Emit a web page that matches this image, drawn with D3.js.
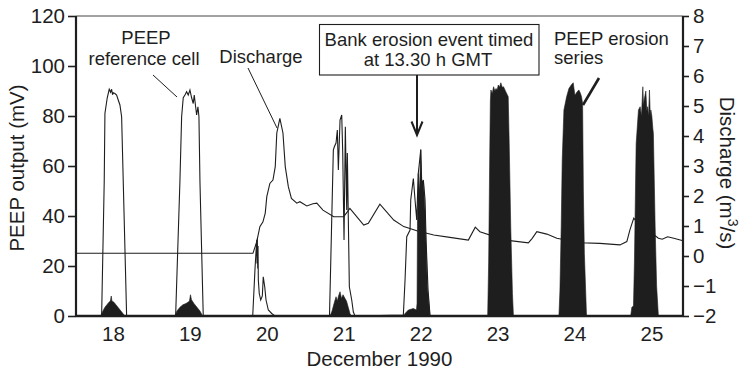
<!DOCTYPE html>
<html><head><meta charset="utf-8">
<script src="https://cdn.jsdelivr.net/npm/d3@7"></script>
<style>
body{margin:0;background:#fff}
svg{display:block}
text{font-family:"Liberation Sans",Arial,Helvetica,sans-serif;fill:#1e1e1e}
</style>
</head><body>
<svg id="chart" width="743" height="374"></svg>
<script>
// ---------- data ----------
const dayDomain = [17.52, 25.41];
const dayTicks = [18, 19, 20, 21, 22, 23, 24, 25];
const peepTicks = [0, 20, 40, 60, 80, 100, 120];
const dischargeTicks = [-2, -1, 0, 1, 2, 3, 4, 5, 6, 7, 8];

// discharge, m3/s  [day, value]
const discharge = [
  [17.52,0.09],[19.82,0.09],[19.87,0.48],[19.91,0.98],[19.95,1.14],[19.98,1.43],[20.0,1.98],
  [20.04,2.42],[20.08,2.53],[20.11,2.98],[20.13,4.1],[20.17,4.59],[20.21,4.1],[20.24,2.98],
  [20.28,2.31],[20.32,1.92],[20.39,1.76],[20.43,1.81],[20.52,1.67],[20.6,1.74],[20.65,1.76],
  [20.73,1.53],[20.87,1.31],[21.0,1.31],[21.08,1.59],[21.26,1.03],[21.32,1.09],[21.47,1.73],
  [21.65,1.2],[21.78,0.98],[21.95,0.84],[22.17,0.7],[22.38,0.62],[22.62,0.53],[22.71,0.96],
  [22.77,0.81],[23.1,0.53],[23.4,0.44],[23.45,0.59],[23.51,0.81],[23.64,0.73],[23.77,0.59],
  [24.07,0.44],[24.33,0.42],[24.59,0.37],[24.68,0.48],[24.72,0.87],[24.77,1.26],[24.79,1.2],
  [25.09,0.59],[25.14,0.56],[25.21,0.64],[25.29,0.59],[25.41,0.51]
];

// PEEP reference cell, mV  [day, value]
const referenceCell = [
  [17.52,0],[17.853,0],[17.887,54],[17.896,81],[17.926,87.3],[17.952,90.7],[17.97,89.5],
  [17.983,90.7],[17.995,88.5],[18.004,89.3],[18.026,89],[18.048,88.4],[18.069,86.4],
  [18.091,84.4],[18.113,79.7],[18.134,54],[18.178,0],
  [18.815,0],[18.871,54],[18.893,79.7],[18.914,87.3],[18.936,88.4],[18.958,89.7],[18.979,88.4],
  [19.001,90.4],[19.023,87.3],[19.044,85],[19.057,88.4],[19.075,83.7],[19.088,80.4],
  [19.105,83.7],[19.118,79.7],[19.131,54],[19.174,0],
  [19.817,0],[19.847,19],[19.869,30.4],[19.873,21],[19.877,31],[19.882,19],[19.886,28],
  [19.89,14.4],[19.902,9],[19.921,6.4],[19.942,8],[19.954,15.7],[19.973,11.7],[19.99,6.4],
  [20.02,2.4],[20.064,1],[20.107,0],
  [20.815,0],[20.841,34.4],[20.865,66.4],[20.878,67.7],[20.9,69.2],[20.917,74.4],[20.93,58.4],
  [20.952,78.4],[20.974,80.4],[20.987,65.2],[21.004,30.4],[21.021,75.7],[21.039,42.4],
  [21.047,65.2],[21.073,11.7],[21.104,6.4],[21.125,1.6],[21.147,0],
  [21.775,0.4],[21.797,14.4],[21.819,31.7],[21.862,34.4],[21.871,46.4],[21.905,55],
  [21.927,46.4],[21.949,38.4],[21.969,57],[22.001,66.4],[22.014,51.7],[22.035,54.4],
  [22.057,46.4],[22.07,30.4],[22.096,10.4],[22.122,0],[25.41,0]
];

// PEEP erosion series, mV  [day, value]
const erosionSeries = [
  [17.52,0],[17.84,0],[17.87,2],[17.896,3.5],[17.922,4.5],[17.948,5.5],[17.967,6],[17.978,8],
  [17.987,6],[18.013,5.5],[18.039,4.5],[18.065,3.5],[18.104,2],[18.156,0],
  [18.806,0],[18.832,2],[18.871,3.5],[18.91,4.5],[18.949,5],[18.975,5.5],[18.995,6],[19.008,8.5],
  [19.021,6.5],[19.053,5],[19.092,3.5],[19.131,2],[19.166,0],
  [20.822,0],[20.848,2],[20.874,5],[20.9,7.7],[20.917,6],[20.932,8],[20.952,9.7],[20.971,7],
  [20.991,8.5],[21.017,7],[21.036,6],[21.059,3.5],[21.081,1],[21.1,0],
  [21.78,0],[21.797,1],[21.84,2.4],[21.905,3],[21.945,2.4],[21.953,5],[21.959,40],[21.969,57],
  [21.985,50],[22.001,66.7],[22.014,54],[22.035,54],[22.057,42],[22.07,29],[22.087,11.7],[22.122,0],
  [22.871,0],[22.884,22],[22.897,62],[22.906,86],[22.913,90.4],[22.93,89],[22.948,91.7],[22.965,90],
  [22.978,91],[22.995,90.5],[23.009,92.4],[23.025,91.5],[23.042,93.3],[23.06,91.5],[23.077,91.7],
  [23.107,89.7],[23.138,87.7],[23.151,69],[23.171,35.7],[23.193,9],[23.206,0],
  [23.797,0],[23.81,10],[23.827,35.7],[23.84,62.4],[23.862,82.4],[23.897,87.7],[23.927,91],
  [23.957,92.4],[23.983,93.3],[24.005,88.3],[24.034,89.7],[24.057,90.4],[24.078,89],[24.091,87.7],
  [24.105,85],[24.115,50],[24.128,25],[24.156,0],
  [24.73,0],[24.745,3.5],[24.766,4],[24.772,12],[24.779,22.4],[24.801,69],[24.81,73],[24.831,82.4],
  [24.853,83.7],[24.87,80],[24.888,91.7],[24.897,84],[24.905,86.4],[24.927,90],[24.94,82],
  [24.948,83.7],[24.962,80],[24.974,90.4],[24.985,80],[24.992,82.4],[25.005,80],[25.018,75],
  [25.025,73],[25.048,35.7],[25.067,12],[25.09,0],[25.41,0]
];

const xTitle = "December 1990";
const yLeftTitle = "PEEP output (mV)";
const noteEvent = ["Bank erosion event timed", "at 13.30 h GMT"];
const noteRef = ["PEEP", "reference cell"];
const noteDischarge = "Discharge";
const noteErosion = ["PEEP erosion", "series"];

// ---------- drawing ----------
const ink = "#1e1e1e";
const L = 76, R = 683, T = 16, B = 316;
const svg = d3.select("#chart");

const x = d3.scaleLinear().domain(dayDomain).range([L, R]);
const yL = d3.scaleLinear().domain([0, 120]).range([B, T]);
const yR = d3.scaleLinear().domain([-2, 8]).range([B, T]);

// top border
svg.append("line").attr("x1", L).attr("x2", R).attr("y1", T).attr("y2", T)
  .attr("stroke", "#444").attr("stroke-width", 1);

// discharge line
svg.append("path").datum(discharge)
  .attr("d", d3.line().x(d => x(d[0])).y(d => yR(d[1])))
  .attr("fill", "none").attr("stroke", ink).attr("stroke-width", 1.1);

// reference cell
svg.append("path").datum(referenceCell)
  .attr("d", d3.line().x(d => x(d[0])).y(d => yL(d[1])))
  .attr("fill", "none").attr("stroke", ink).attr("stroke-width", 1.1);

// erosion series (dense signal as filled envelope)
svg.append("path").datum(erosionSeries)
  .attr("d", d3.area().x(d => x(d[0])).y0(yL(0)).y1(d => yL(d[1])))
  .attr("fill", ink).attr("stroke", ink).attr("stroke-width", 0.6);

const fs = "20.5px";
// left axis
const gl = svg.append("g").attr("transform", `translate(${L},0)`)
  .call(d3.axisLeft(yL).tickValues(peepTicks).tickSize(8).tickPadding(3));
// right axis
const gr = svg.append("g").attr("transform", `translate(${R},0)`)
  .call(d3.axisRight(yR).tickValues(dischargeTicks).tickSize(6).tickPadding(4).tickFormat(d3.format("d")));
// bottom axis
const gb = svg.append("g").attr("transform", `translate(0,${B})`)
  .call(d3.axisBottom(x).tickValues(dayTicks).tickSize(0).tickPadding(10).tickFormat(d3.format("d")));

[gl, gr, gb].forEach(g => {
  g.selectAll("text").attr("font-size", fs).attr("fill", ink)
    .attr("font-family", '"Liberation Sans",Arial,Helvetica,sans-serif');
  g.selectAll("line").attr("stroke", ink).attr("stroke-width", 1.6);
  g.select(".domain").attr("stroke", ink).attr("stroke-width", 2.2);
});
gb.select(".domain").attr("d", `M${L},0H${R}`).attr("stroke-width", 2.6);
gl.select(".domain").attr("d", `M0,${T}V${B}`);
gr.select(".domain").attr("d", `M0,${T}V${B}`);

// axis titles
svg.append("text").attr("transform", `translate(${(L + R) / 2 + 0},366)`)
  .attr("text-anchor", "middle").attr("font-size", fs).text(xTitle);
svg.append("text").attr("transform", `translate(24,${(T + B) / 2 + 2}) rotate(-90)`)
  .attr("text-anchor", "middle").attr("font-size", fs).text(yLeftTitle);
const rt = svg.append("text").attr("transform", `translate(720,${(T + B) / 2 + 7}) rotate(90)`)
  .attr("text-anchor", "middle").attr("font-size", fs);
rt.append("tspan").text("Discharge (m");
rt.append("tspan").attr("baseline-shift", "super").attr("font-size", "14px").text("3");
rt.append("tspan").text("/s)");

// annotations
const nfs = "18.5px";
svg.append("text").attr("x", 146).attr("y", 44).attr("text-anchor", "middle").attr("font-size", nfs).text(noteRef[0]);
svg.append("text").attr("x", 144).attr("y", 65).attr("text-anchor", "middle").attr("font-size", nfs).text(noteRef[1]);
svg.append("line").attr("x1", 153).attr("y1", 75).attr("x2", 177).attr("y2", 97).attr("stroke", ink).attr("stroke-width", 1);

svg.append("text").attr("x", 261).attr("y", 63).attr("text-anchor", "middle").attr("font-size", nfs).text(noteDischarge);
svg.append("line").attr("x1", 248).attr("y1", 68).attr("x2", 277).attr("y2", 128).attr("stroke", ink).attr("stroke-width", 1);

svg.append("text").attr("x", 554).attr("y", 45).attr("font-size", nfs).text(noteErosion[0]);
svg.append("text").attr("x", 554).attr("y", 64).attr("font-size", nfs).text(noteErosion[1]);
svg.append("line").attr("x1", 599).attr("y1", 78).attr("x2", 583).attr("y2", 105).attr("stroke", ink).attr("stroke-width", 2.6);

svg.append("rect").attr("x", 319.5).attr("y", 24.5).attr("width", 219.5).attr("height", 50.5)
  .attr("fill", "#fff").attr("stroke", ink).attr("stroke-width", 1.1);
svg.append("text").attr("x", 429).attr("y", 46).attr("text-anchor", "middle").attr("font-size", nfs).text(noteEvent[0]);
svg.append("text").attr("x", 428).attr("y", 66).attr("text-anchor", "middle").attr("font-size", nfs).text(noteEvent[1]);
// arrow
svg.append("line").attr("x1", 417).attr("y1", 75).attr("x2", 417).attr("y2", 134).attr("stroke", ink).attr("stroke-width", 2);
svg.append("path").attr("d", "M411.5,121.5L417,135L422.5,121.5").attr("fill", "none").attr("stroke", ink).attr("stroke-width", 2);
</script>
</body></html>
